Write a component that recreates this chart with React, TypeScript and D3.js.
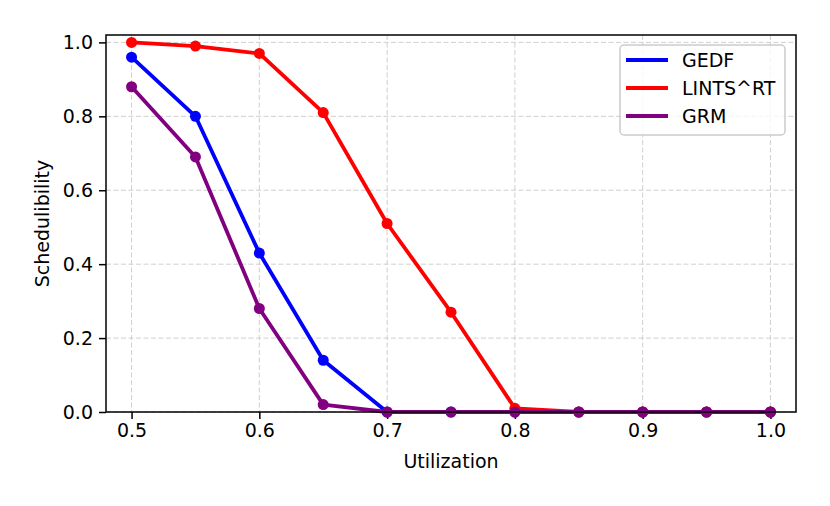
import { useEffect, useRef } from "react"
import * as d3 from "d3"

const utilization = [0.5, 0.55, 0.6, 0.65, 0.7, 0.75, 0.8, 0.85, 0.9, 0.95, 1.0]
const gedf = [0.96, 0.8, 0.43, 0.14, 0, 0, 0, 0, 0, 0, 0]
const lintsRt = [1.0, 0.99, 0.97, 0.81, 0.51, 0.27, 0.01, 0, 0, 0, 0]
const grm = [0.88, 0.69, 0.28, 0.02, 0, 0, 0, 0, 0, 0, 0]
const seriesNames = ["GEDF", "LINTS^RT", "GRM"]
const seriesColors = ["#0000ff", "#ff0000", "#800080"]
const xTicks = [0.5, 0.6, 0.7, 0.8, 0.9, 1.0]
const yTicks = [0, 0.2, 0.4, 0.6, 0.8, 1.0]

export default function App() {
  const svgRef = useRef<SVGSVGElement | null>(null)

  useEffect(() => {
    if (!svgRef.current) return
    const root = d3.select(svgRef.current)
    root.selectAll("*").remove()

    const margin = { top: 35, right: 34, bottom: 94, left: 106 }
    const width = 830 - margin.left - margin.right
    const height = 506 - margin.top - margin.bottom
    const font = "DejaVu Sans, sans-serif"
    const fs = 19

    const svg = root.append("g").attr("transform", `translate(${margin.left},${margin.top})`)

    const x = d3.scaleLinear().domain([0.48, 1.02]).range([0, width])
    const y = d3.scaleLinear().domain([0, 1.02]).range([height, 0])

    // grid
    svg
      .selectAll(".gx")
      .data(xTicks)
      .enter()
      .append("line")
      .attr("x1", (d) => x(d))
      .attr("x2", (d) => x(d))
      .attr("y1", 0)
      .attr("y2", height)
      .attr("stroke", "#cfcfcf")
      .attr("stroke-width", 1)
      .attr("stroke-dasharray", "5,2.5")
    svg
      .selectAll(".gy")
      .data(yTicks)
      .enter()
      .append("line")
      .attr("x1", 0)
      .attr("x2", width)
      .attr("y1", (d) => y(d))
      .attr("y2", (d) => y(d))
      .attr("stroke", "#cfcfcf")
      .attr("stroke-width", 1)
      .attr("stroke-dasharray", "5,2.5")

    // axes
    const xAxis = svg
      .append("g")
      .attr("transform", `translate(0,${height})`)
      .call(d3.axisBottom(x).tickValues(xTicks).tickFormat(d3.format(".1f")).tickSize(7).tickPadding(5))
    const yAxis = svg
      .append("g")
      .call(d3.axisLeft(y).tickValues(yTicks).tickFormat(d3.format(".1f")).tickSize(7).tickPadding(6))
    ;[xAxis, yAxis].forEach((a) => {
      a.select(".domain").remove()
      a.selectAll("text").attr("font-family", font).attr("font-size", fs).attr("fill", "#000")
      a.selectAll("line").attr("stroke", "#000").attr("stroke-width", 1.5)
    })

    // series
    const all = [gedf, lintsRt, grm]
    const line = d3
      .line<number>()
      .x((_, i) => x(utilization[i]))
      .y((d) => y(d))
    all.forEach((vals, s) => {
      svg
        .append("path")
        .datum(vals)
        .attr("d", line)
        .attr("fill", "none")
        .attr("stroke", seriesColors[s])
        .attr("stroke-width", 3.8)
        .attr("stroke-linejoin", "round")
        .attr("stroke-linecap", "butt")
      svg
        .selectAll(`.m${s}`)
        .data(vals)
        .enter()
        .append("circle")
        .attr("cx", (_, i) => x(utilization[i]))
        .attr("cy", (d) => y(d))
        .attr("r", 5.5)
        .attr("fill", seriesColors[s])
    })

    // frame
    svg
      .append("rect")
      .attr("width", width)
      .attr("height", height)
      .attr("fill", "none")
      .attr("stroke", "#000")
      .attr("stroke-width", 1.5)

    // labels
    svg
      .append("text")
      .attr("x", width / 2)
      .attr("y", height + 56)
      .attr("text-anchor", "middle")
      .attr("font-family", font)
      .attr("font-size", fs)
      .text("Utilization")
    svg
      .append("text")
      .attr("transform", "rotate(-90)")
      .attr("x", -height / 2)
      .attr("y", -57)
      .attr("text-anchor", "middle")
      .attr("font-family", font)
      .attr("font-size", fs)
      .text("Schedulibility")

    // legend
    const lg = svg.append("g").attr("transform", `translate(${width - 176},10)`)
    lg.append("rect")
      .attr("width", 165)
      .attr("height", 90)
      .attr("rx", 4)
      .attr("fill", "#fff")
      .attr("fill-opacity", 0.8)
      .attr("stroke", "#cccccc")
      .attr("stroke-width", 1.5)
    seriesNames.forEach((name, i) => {
      const cy = 15 + i * 28
      lg.append("line")
        .attr("x1", 6)
        .attr("x2", 48)
        .attr("y1", cy)
        .attr("y2", cy)
        .attr("stroke", seriesColors[i])
        .attr("stroke-width", 3.8)
      lg.append("text")
        .attr("x", 62)
        .attr("y", cy + 7)
        .attr("font-family", font)
        .attr("font-size", fs)
        .text(name)
    })
  }, [])

  return <svg ref={svgRef} width={830} height={506} style={{ display: "block", position: "absolute", left: 0, top: 0 }}></svg>
}
